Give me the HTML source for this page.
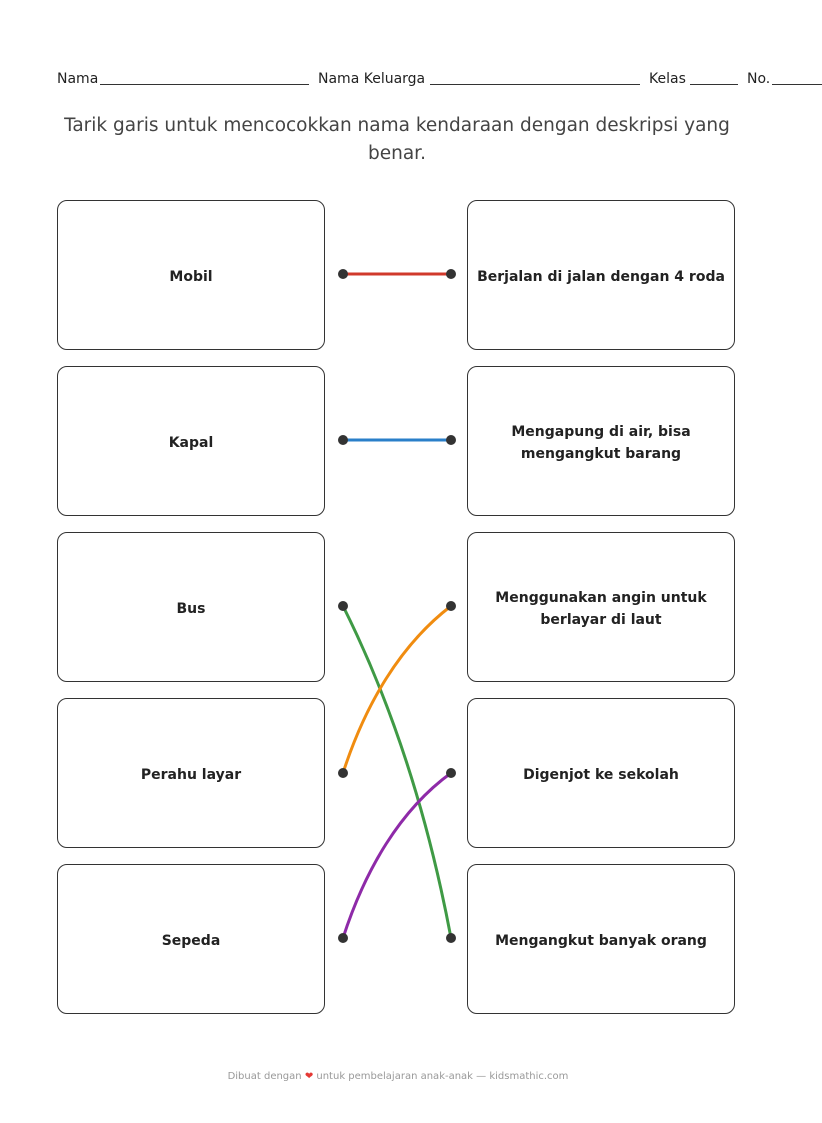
<!DOCTYPE html>
<html><head><meta charset="utf-8"><style>
body{margin:0;width:822px;height:1123px;background:#fff;font-family:"DejaVu Sans","Liberation Sans",sans-serif;color:#222;position:relative;overflow:hidden}
.hdr{position:absolute;top:71px;font-size:14px;color:#222}
.ln{position:absolute;top:84px;height:1px;background:#333}
.title{position:absolute;top:112px;left:26px;width:742px;text-align:center;font-size:18.5px;line-height:28px;color:#444}
.box{position:absolute;width:266px;height:145px;border:1.8px solid #333;border-radius:10px;display:flex;align-items:center;justify-content:center;text-align:center;font-weight:bold;font-size:14px;line-height:22px;box-sizing:content-box;padding-top:3px}
.foot{position:absolute;top:1071px;left:0;width:796px;text-align:center;font-size:10px;color:#999}
</style></head><body>
<div class="hdr" style="left:57px">Nama</div><div class="ln" style="left:100px;width:209px"></div>
<div class="hdr" style="left:318px">Nama Keluarga</div><div class="ln" style="left:430px;width:210px"></div>
<div class="hdr" style="left:649px">Kelas</div><div class="ln" style="left:690px;width:48px"></div>
<div class="hdr" style="left:747px">No.</div><div class="ln" style="left:772px;width:50px"></div>
<div class="title">Tarik garis untuk mencocokkan nama kendaraan dengan deskripsi yang<br>benar.</div>
<div class="box" style="left:57px;top:200px">Mobil</div>
<div class="box" style="left:57px;top:366px">Kapal</div>
<div class="box" style="left:57px;top:532px">Bus</div>
<div class="box" style="left:57px;top:698px">Perahu layar</div>
<div class="box" style="left:57px;top:864px">Sepeda</div>
<div class="box" style="left:467px;top:200px">Berjalan di jalan dengan 4 roda</div>
<div class="box" style="left:467px;top:366px">Mengapung di air, bisa<br>mengangkut barang</div>
<div class="box" style="left:467px;top:532px">Menggunakan angin untuk<br>berlayar di laut</div>
<div class="box" style="left:467px;top:698px">Digenjot ke sekolah</div>
<div class="box" style="left:467px;top:864px">Mengangkut banyak orang</div>
<svg width="822" height="1123" style="position:absolute;left:0;top:0">
<g fill="none" stroke-width="3" stroke-linecap="round">
<line x1="343" y1="274" x2="451" y2="274" stroke="#d0392b"/>
<line x1="343" y1="440" x2="451" y2="440" stroke="#2a7fc9"/>
<path d="M343 606 C385 690 425 800 451 938" stroke="#3f9a45"/>
<path d="M343 773 C365 705 400 645 451 606" stroke="#f08c10"/>
<path d="M343 938 C365 870 400 810 451 773" stroke="#8e2aa8"/>
</g>
<g fill="#333">
<circle cx="343" cy="274" r="5"/><circle cx="451" cy="274" r="5"/>
<circle cx="343" cy="440" r="5"/><circle cx="451" cy="440" r="5"/>
<circle cx="343" cy="606" r="5"/><circle cx="451" cy="606" r="5"/>
<circle cx="343" cy="773" r="5"/><circle cx="451" cy="773" r="5"/>
<circle cx="343" cy="938" r="5"/><circle cx="451" cy="938" r="5"/>
</g>
</svg>
<div class="foot">Dibuat dengan <span style="color:#e53935">❤</span> untuk pembelajaran anak-anak — kidsmathic.com</div>
</body></html>
